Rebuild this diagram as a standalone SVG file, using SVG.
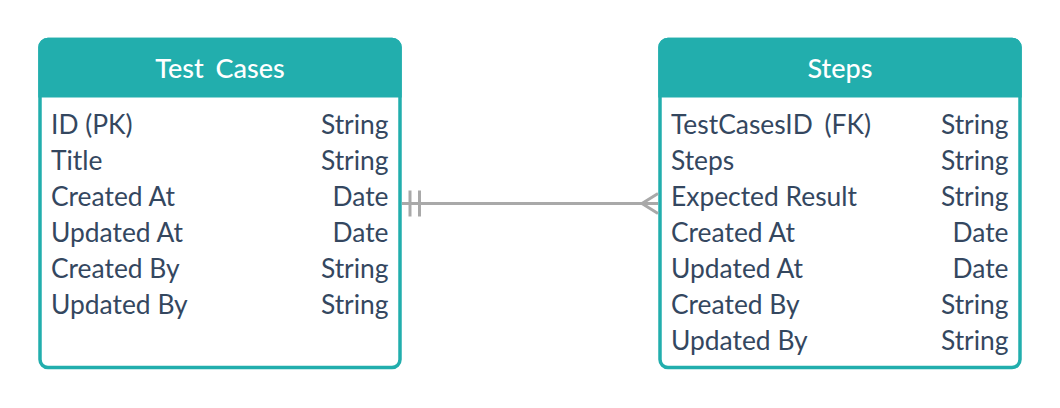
<svg xmlns="http://www.w3.org/2000/svg" width="1060" height="408" viewBox="0 0 1060 408">
<style>
.box{fill:#ffffff;stroke:#22AEAD;stroke-width:3.5}
.hdr{fill:#22AEAD}
.title{font-family:Lato,"Open Sans",sans-serif;font-size:27px;font-weight:500;fill:#ffffff;text-anchor:middle}
.f{font-family:Lato,"Open Sans",sans-serif;font-size:26.4px;fill:#34475F}
.t{font-family:Lato,"Open Sans",sans-serif;font-size:26.4px;fill:#34475F;text-anchor:end}
.ws{word-spacing:5px}
.conn{fill:none;stroke:#A9A9A9;stroke-width:3}
</style>
<rect width="1060" height="408" fill="#ffffff"/>
<g id="test-cases">
<rect class="box" x="40" y="39.5" width="360" height="328" rx="8"/>
<path class="hdr" d="M38.3,97.5 V47.5 A9.5,9.5 0 0 1 47.8,37.8 H392.2 A9.5,9.5 0 0 1 401.7,47.5 V97.5 Z"/>
<text class="title ws" x="220" y="77.5">Test Cases</text>
<text class="f" x="51" y="134.4">ID (PK)</text><text class="t" x="388.5" y="134.4">String</text>
<text class="f" x="51" y="170.4">Title</text><text class="t" x="388.5" y="170.4">String</text>
<text class="f" x="51" y="206.4">Created At</text><text class="t" x="388.5" y="206.4">Date</text>
<text class="f" x="51" y="242.4">Updated At</text><text class="t" x="388.5" y="242.4">Date</text>
<text class="f" x="51" y="278.4">Created By</text><text class="t" x="388.5" y="278.4">String</text>
<text class="f" x="51" y="314.4">Updated By</text><text class="t" x="388.5" y="314.4">String</text>
</g>
<g id="steps">
<rect class="box" x="660" y="39.5" width="360" height="328" rx="8"/>
<path class="hdr" d="M658.3,97.5 V47.5 A9.5,9.5 0 0 1 667.8,37.8 H1012.2 A9.5,9.5 0 0 1 1021.7,47.5 V97.5 Z"/>
<text class="title" x="840" y="77.5">Steps</text>
<text class="f ws" x="671" y="134.4">TestCasesID (FK)</text><text class="t" x="1008.5" y="134.4">String</text>
<text class="f" x="671" y="170.4">Steps</text><text class="t" x="1008.5" y="170.4">String</text>
<text class="f" x="671" y="206.4">Expected Result</text><text class="t" x="1008.5" y="206.4">String</text>
<text class="f" x="671" y="242.4">Created At</text><text class="t" x="1008.5" y="242.4">Date</text>
<text class="f" x="671" y="278.4">Updated At</text><text class="t" x="1008.5" y="278.4">Date</text>
<text class="f" x="671" y="314.4">Created By</text><text class="t" x="1008.5" y="314.4">String</text>
<text class="f" x="671" y="350.4">Updated By</text><text class="t" x="1008.5" y="350.4">String</text>
</g>
<g id="connectors">
<path class="conn" d="M402,203.5 H658"/>
<path class="conn" d="M410,190.5 V216.5 M419.5,190.5 V216.5"/>
<path class="conn" d="M658,193.5 L642,203.5 L658,213.5"/>
</g>
</svg>
